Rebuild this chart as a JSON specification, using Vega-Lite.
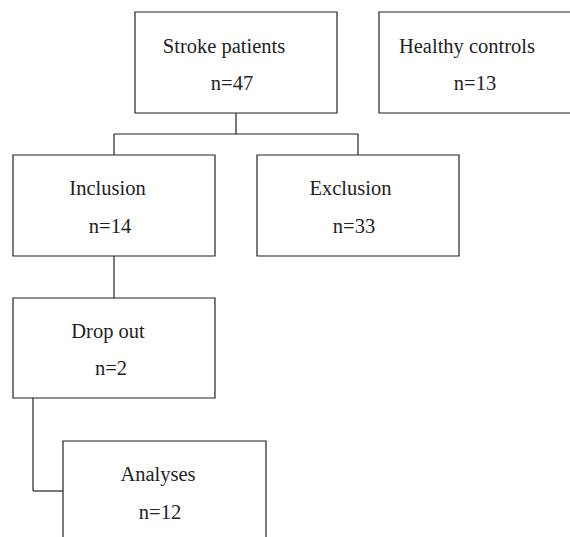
{
  "$schema": "https://vega.github.io/schema/vega-lite/v6.json",
  "width": 570,
  "height": 537,
  "padding": 0,
  "autosize": {"type": "none"},
  "background": "white",
  "config": {"view": {"stroke": null}},
  "layer": [
    {
      "data": {"values": [
        {"box": "Stroke patients", "x": 135, "x2": 337, "y": 12, "y2": 113},
        {"box": "Healthy controls", "x": 379, "x2": 580, "y": 12, "y2": 113},
        {"box": "Inclusion", "x": 13, "x2": 215, "y": 155, "y2": 256},
        {"box": "Exclusion", "x": 257, "x2": 459, "y": 155, "y2": 256},
        {"box": "Drop out", "x": 13, "x2": 215, "y": 298, "y2": 398},
        {"box": "Analyses", "x": 63, "x2": 266, "y": 441, "y2": 560}
      ]},
      "mark": {"type": "rect", "fill": "white", "stroke": "#222222", "strokeWidth": 1.2, "clip": true},
      "encoding": {
        "x": {"field": "x", "type": "quantitative", "scale": {"domain": [0, 570], "nice": false, "zero": false}, "axis": null},
        "x2": {"field": "x2"},
        "y": {"field": "y", "type": "quantitative", "scale": {"domain": [0, 537], "nice": false, "zero": false, "reverse": true}, "axis": null},
        "y2": {"field": "y2"}
      }
    },
    {
      "data": {"values": [
        {"x": 236, "x2": 236, "y": 113, "y2": 134},
        {"x": 114, "x2": 358, "y": 134, "y2": 134},
        {"x": 114, "x2": 114, "y": 134, "y2": 155},
        {"x": 358, "x2": 358, "y": 134, "y2": 155},
        {"x": 114, "x2": 114, "y": 256, "y2": 298},
        {"x": 33, "x2": 33, "y": 398, "y2": 491},
        {"x": 33, "x2": 63, "y": 491, "y2": 491}
      ]},
      "mark": {"type": "rule", "stroke": "#222222", "strokeWidth": 1.2},
      "encoding": {
        "x": {"field": "x", "type": "quantitative"},
        "x2": {"field": "x2"},
        "y": {"field": "y", "type": "quantitative"},
        "y2": {"field": "y2"}
      }
    },
    {
      "data": {"values": [
        {"label": "Stroke patients", "x": 224, "y": 47},
        {"label": "n=47", "x": 232, "y": 84},
        {"label": "Healthy controls", "x": 467, "y": 47},
        {"label": "n=13", "x": 475, "y": 84},
        {"label": "Inclusion", "x": 107.5, "y": 189},
        {"label": "n=14", "x": 110, "y": 227},
        {"label": "Exclusion", "x": 350.5, "y": 189},
        {"label": "n=33", "x": 354, "y": 227},
        {"label": "Drop out", "x": 108, "y": 332},
        {"label": "n=2", "x": 111, "y": 369},
        {"label": "Analyses", "x": 158, "y": 475},
        {"label": "n=12", "x": 160, "y": 513}
      ]},
      "mark": {"type": "text", "font": "Liberation Serif, Times New Roman, DejaVu Serif, serif", "fontSize": 20.5, "color": "#222222", "align": "center", "baseline": "middle"},
      "encoding": {
        "x": {"field": "x", "type": "quantitative"},
        "y": {"field": "y", "type": "quantitative"},
        "text": {"field": "label"}
      }
    }
  ]
}
